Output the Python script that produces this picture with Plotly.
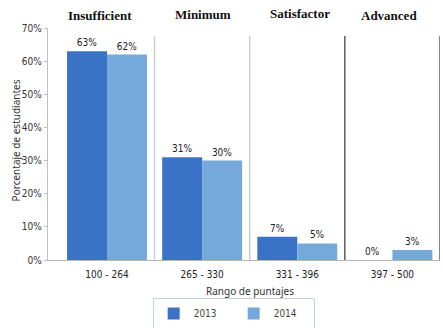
import plotly.graph_objects as go

categories = ["100 - 264", "265 - 330", "331 - 396", "397 - 500"]
levels = ["Insufficient", "Minimum", "Satisfactor", "Advanced"]
values_2013 = [63, 31, 7, 0]
values_2014 = [62, 30, 5, 3]
series_names = ["2013", "2014"]
y_ticks = [0, 10, 20, 30, 40, 50, 60, 70]

c2013 = "#3a73c5"
c2014 = "#76a9db"
narrow = "Liberation Sans Narrow, Arial Narrow, DejaVu Sans Condensed, Roboto Condensed, sans-serif"

fig = go.Figure()
for name, vals, col in [(series_names[0], values_2013, c2013), (series_names[1], values_2014, c2014)]:
    fig.add_trace(go.Bar(
        x=categories, y=vals, name=name, marker=dict(color=col, line=dict(width=0)),
        text=[f"{v}%" for v in vals], textposition="outside", cliponaxis=False,
        textfont=dict(family=narrow, size=10, color="#222"),
    ))

# dividers between categories
div_colors = ["#c8c8c8", "#c8c8c8", "#444444", "#444444"]
for i, col in enumerate(div_colors):
    fig.add_shape(type="line", xref="x", yref="y", x0=i + 0.5, x1=i + 0.5, y0=0, y1=67.6,
                  line=dict(color=col, width=1.3), layer="below")

shifts = [(-7, 0), (1, 1), (3, 2), (-3, 0)]
for i, lv in enumerate(levels):
    fig.add_annotation(x=categories[i], y=1.052, xref="x", yref="paper", text=f"<b>{lv}</b>",
                       showarrow=False, xshift=shifts[i][0], yshift=shifts[i][1],
                       xanchor="center", yanchor="middle",
                       font=dict(family="Liberation Serif, serif", size=13, color="#111"))

fig.add_annotation(x=-0.082, y=0.515, xref="paper", yref="paper", text="Porcentaje de estudiantes",
                   textangle=-90, showarrow=False, xanchor="center", yanchor="middle",
                   font=dict(family="Noto Sans, sans-serif", size=10, color="#333"))
fig.add_annotation(x=0.515, y=-0.133, xref="paper", yref="paper", text="Rango de puntajes",
                   showarrow=False, xanchor="center", yanchor="middle",
                   font=dict(family="Noto Sans, sans-serif", size=10, color="#333"))

fig.update_layout(
    width=443, height=328,
    margin=dict(l=48, r=3, t=28, b=68, autoexpand=False),
    paper_bgcolor="white", plot_bgcolor="white",
    barmode="group", bargap=0.16, bargroupgap=0,
    showlegend=True,
    legend=dict(orientation="h", x=0.267, xanchor="left",
                yref="container", y=0.0915, yanchor="top",
                bordercolor="#c5d3e3", borderwidth=1, bgcolor="white",
                entrywidth=35, entrywidthmode="pixels",
                font=dict(family=narrow, size=10, color="#444")),
    xaxis=dict(range=[-0.62, 3.5], showgrid=False, showline=True, linecolor="#b5b5b5",
               linewidth=1.3, ticks="outside", ticklen=5, tickcolor="rgba(0,0,0,0)",
               tickfont=dict(family=narrow, size=10, color="#222")),
    yaxis=dict(range=[0, 70], tickvals=y_ticks, ticktext=[f"{t}%" for t in y_ticks],
               showgrid=False, zeroline=False, showline=True, linecolor="#c0c0c0", linewidth=1.3,
               ticks="outside", ticklen=3, tickcolor="#c0c0c0",
               tickfont=dict(family=narrow, size=10, color="#333")),
)

fig.write_html("out.html")
